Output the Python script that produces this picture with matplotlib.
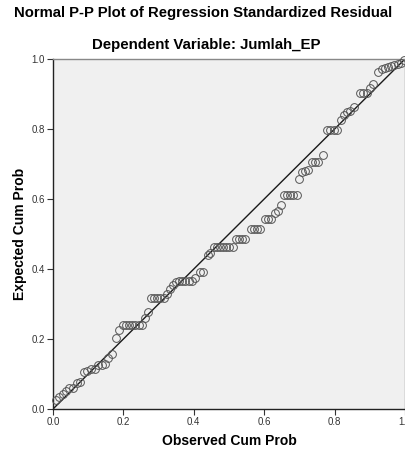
import matplotlib.pyplot as plt
import numpy as np

plt.rcParams['font.family'] = ['Liberation Sans', 'DejaVu Sans']

# observed / expected cumulative probabilities
observed = [0.008, 0.018, 0.027, 0.037, 0.046, 0.056, 0.067, 0.077, 0.089, 0.097,
            0.107, 0.119, 0.129, 0.138, 0.148, 0.157, 0.167, 0.179, 0.188,
            0.198, 0.207, 0.216, 0.225, 0.234, 0.243, 0.252, 0.261, 0.270,
            0.278, 0.287, 0.296, 0.305, 0.314, 0.325, 0.333, 0.342, 0.350,
            0.358, 0.367, 0.376, 0.385, 0.394, 0.402, 0.418, 0.427, 0.440, 0.447,
            0.456, 0.465, 0.474, 0.483, 0.492, 0.501, 0.510,
            0.519, 0.528, 0.537, 0.546, 0.562, 0.571, 0.580, 0.589,
            0.602, 0.611, 0.620, 0.631, 0.640, 0.648,
            0.656, 0.665, 0.674, 0.683, 0.692, 0.698, 0.706, 0.715, 0.724,
            0.735, 0.745, 0.754, 0.768, 0.778, 0.788, 0.798, 0.808,
            0.817, 0.826, 0.836, 0.845, 0.855, 0.872, 0.881, 0.891, 0.900, 0.910,
            0.924, 0.934, 0.943, 0.952, 0.961, 0.970, 0.980, 0.989, 0.998]
expected = [0.026, 0.035, 0.042, 0.052, 0.059, 0.059, 0.075, 0.078, 0.107, 0.110,
            0.114, 0.114, 0.126, 0.126, 0.130, 0.145, 0.157, 0.202, 0.226,
            0.240, 0.240, 0.240, 0.240, 0.240, 0.240, 0.240, 0.260, 0.276,
            0.318, 0.318, 0.318, 0.318, 0.318, 0.329, 0.342, 0.355, 0.364,
            0.367, 0.367, 0.367, 0.367, 0.367, 0.373, 0.392, 0.392, 0.440, 0.445,
            0.464, 0.464, 0.464, 0.464, 0.464, 0.464, 0.464,
            0.486, 0.486, 0.486, 0.486, 0.513, 0.513, 0.513, 0.513,
            0.543, 0.543, 0.543, 0.559, 0.567, 0.583,
            0.611, 0.611, 0.611, 0.611, 0.611, 0.656, 0.677, 0.680, 0.683,
            0.706, 0.706, 0.706, 0.725, 0.797, 0.797, 0.797, 0.797,
            0.826, 0.840, 0.849, 0.852, 0.864, 0.904, 0.904, 0.904, 0.916, 0.930,
            0.964, 0.972, 0.975, 0.978, 0.980, 0.983, 0.986, 0.990, 0.997]

ticks = [0.0, 0.2, 0.4, 0.6, 0.8, 1.0]
tick_labels = ['0.0', '0.2', '0.4', '0.6', '0.8', '1.0']

fig = plt.figure(figsize=(4.06, 4.5), dpi=100)
ax = fig.add_axes([53/406, 41/450, 352/406, 350/450])
ax.set_facecolor('#f0f0f0')

ax.plot([0, 1], [0, 1], color='#1a1a1a', lw=1.0, zorder=2)
ax.plot(observed, expected, 'o', ms=5.6, mfc='none', mec='#555555', mew=0.7,
        zorder=3, clip_on=False)

ax.set_xlim(0, 1)
ax.set_ylim(0, 1)
ax.set_xticks(ticks)
ax.set_xticklabels(tick_labels)
ax.set_yticks(ticks)
ax.set_yticklabels(tick_labels)
ax.tick_params(labelsize=7, colors='#333333', length=4, width=0.8, pad=2)

for s in ['left', 'bottom']:
    ax.spines[s].set_color('#222222')
    ax.spines[s].set_linewidth(1.0)
for s in ['top', 'right']:
    ax.spines[s].set_color('#888888')
    ax.spines[s].set_linewidth(1.0)

ax.set_xlabel('Observed Cum Prob', fontsize=10, fontweight='bold', labelpad=5)
ax.set_ylabel('Expected Cum Prob', fontsize=10, fontweight='bold', labelpad=3)

fig.text(203/406, 1 - 13/450, 'Normal P-P Plot of Regression Standardized Residual',
         ha='center', va='center', fontsize=10.7, fontweight='bold')
fig.text(206/406, 1 - 45/450, 'Dependent Variable: Jumlah_EP',
         ha='center', va='center', fontsize=10.8, fontweight='bold')

fig.savefig('out.png', dpi=100)
